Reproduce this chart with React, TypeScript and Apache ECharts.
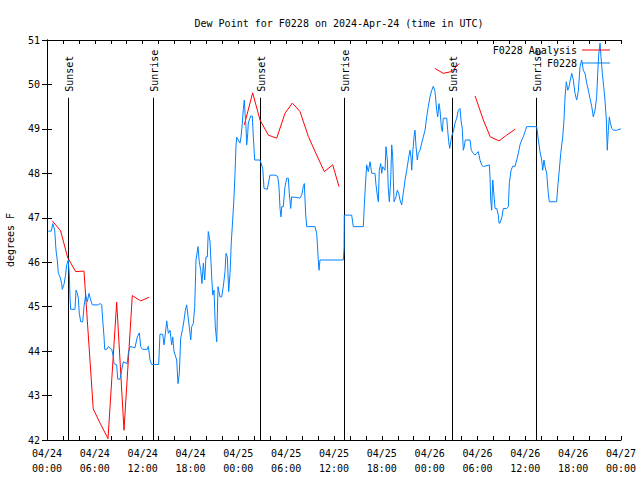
import React, { useEffect, useRef } from "react";
import * as echarts from "echarts";

// hours since 2024-04-24 00:00 UTC
const blueHours = [0.16,0.54,0.72,0.97,1.13,1.29,1.42,1.63,1.84,1.92,2.13,2.32,2.47,2.67,2.8,2.89,2.97,3.51,3.64,3.8,3.93,4.05,4.23,4.48,4.64,4.85,5.06,5.27,5.48,5.68,6.44,6.65,6.86,6.99,7.15,7.24,7.49,7.69,8.12,8.32,8.4,8.74,8.87,9.16,9.37,9.57,10.07,10.2,10.41,11.04,11.33,11.58,11.75,12.0,12.58,12.71,12.92,13.13,14.01,14.17,14.51,14.68,15.02,15.22,15.43,15.64,15.77,15.93,16.27,16.43,16.6,16.77,17.02,17.19,17.35,17.52,17.72,17.94,18.03,18.15,18.35,18.53,18.69,18.94,19.1,19.28,19.44,19.61,19.78,19.94,20.11,20.23,20.45,20.66,20.79,20.95,21.11,21.29,21.45,21.7,21.91,22.12,22.33,22.45,22.62,22.79,22.96,23.12,23.29,23.46,23.58,23.71,23.8,24.0,24.21,24.34,24.5,24.62,24.75,24.84,24.96,25.05,25.18,25.25,25.55,25.75,25.88,26.05,26.72,27.06,27.22,27.63,27.97,28.6,28.94,29.1,29.23,29.35,29.44,29.64,29.85,30.07,30.27,30.39,30.57,30.69,31.52,31.73,31.95,32.15,32.28,32.45,32.58,32.99,33.62,33.83,34.03,34.12,34.24,37.17,37.26,37.29,38.22,38.42,39.68,39.8,39.98,40.1,40.3,40.52,40.73,40.86,41.14,41.27,41.43,41.56,41.68,41.86,41.98,42.11,42.4,42.52,42.69,42.81,42.94,43.11,43.24,43.36,43.53,43.78,43.94,44.12,44.28,44.49,44.69,44.91,45.12,45.32,45.53,45.66,45.75,45.87,46.04,46.16,46.29,46.45,46.57,46.79,47.0,47.2,47.42,47.63,47.83,48.04,48.26,48.46,48.67,48.88,49.01,49.17,49.3,49.46,49.59,49.71,50.14,50.26,50.39,50.51,50.68,50.8,50.97,51.18,51.39,51.59,51.81,51.93,52.09,52.22,52.34,52.47,53.06,53.22,53.47,53.68,53.9,54.1,54.31,54.53,54.73,55.48,55.57,55.66,55.78,55.91,55.98,56.2,56.41,56.61,56.7,56.82,57.04,57.24,57.67,57.87,57.99,58.21,58.42,58.71,58.92,59.12,59.33,59.55,59.75,59.96,60.17,61.43,61.63,61.84,62.05,62.18,62.34,62.47,62.68,62.88,63.01,63.93,64.1,64.26,64.44,64.69,64.85,64.98,65.14,65.32,65.48,65.64,65.82,66.02,66.23,66.44,66.64,66.86,67.07,67.27,67.49,67.7,67.9,68.11,68.33,68.53,68.74,68.95,69.08,69.2,69.37,69.49,69.66,69.83,69.99,70.16,70.28,70.41,70.54,70.66,70.84,71.04,71.46,71.75,72.0];
const blueDew = [46.7,46.7,46.87,46.72,46.27,46.05,45.75,45.67,45.52,45.39,45.5,45.7,45.94,46.05,45.71,45.19,44.94,44.94,45.37,45.3,45.19,44.85,44.66,44.66,45.0,45.26,45.11,45.3,45.15,45.04,45.04,45.07,45.04,44.7,44.32,44.04,44.04,44.1,44.04,43.87,43.72,43.69,43.37,43.37,43.57,43.76,43.72,43.95,44.1,44.08,44.32,44.41,44.1,44.04,44.04,44.11,43.8,43.7,43.7,44.38,44.38,44.14,44.68,44.4,44.47,44.14,44.32,43.99,43.8,43.27,43.5,44.29,44.51,44.7,44.92,45.04,44.74,44.4,44.25,44.55,44.62,45.0,46.05,46.35,46.01,45.82,45.52,45.98,45.6,46.12,46.12,46.69,46.46,45.67,45.26,45.37,44.55,44.21,45.45,45.22,45.22,45.46,45.79,46.2,46.12,45.34,45.75,46.46,46.95,47.47,48.0,48.64,48.81,48.75,48.68,48.82,49.13,49.44,49.65,49.35,49.05,48.64,48.9,49.13,49.29,49.29,48.82,48.3,48.3,48.11,47.66,47.64,47.96,47.96,47.93,47.7,47.21,47.02,47.25,47.25,47.7,47.89,47.89,47.55,47.21,47.47,47.45,47.44,47.51,47.7,47.77,47.06,46.8,46.8,46.8,46.65,46.05,45.82,46.05,46.05,46.31,47.06,47.06,46.8,46.8,47.29,47.85,48.19,48.04,48.26,48.0,48.0,48.0,47.74,47.51,47.36,48.07,48.22,48.0,48.15,48.07,48.6,48.3,47.66,47.36,47.85,48.64,48.37,47.36,47.47,47.62,47.55,47.4,47.29,47.55,47.85,48.07,48.3,48.52,48.37,48.07,48.45,48.82,48.97,48.6,48.3,48.45,48.52,48.68,48.82,48.97,49.27,49.5,49.72,49.87,49.96,49.84,49.42,49.27,49.57,49.42,49.05,48.94,49.24,49.24,48.97,48.71,48.56,48.75,48.86,48.94,49.13,49.24,49.42,49.46,49.2,49.01,48.52,48.6,48.75,48.75,48.52,48.45,48.41,48.45,48.49,48.3,48.19,48.15,48.19,47.92,47.4,47.17,47.85,47.85,47.21,47.21,47.06,46.88,46.88,47.0,47.21,47.21,47.25,47.77,48.07,48.16,48.16,48.3,48.45,48.64,48.75,48.82,48.94,49.05,49.05,48.75,48.49,48.3,48.07,48.3,48.15,48.0,47.55,47.36,47.36,47.77,48.07,48.45,48.82,49.2,49.72,50.06,49.87,49.95,50.1,50.25,50.1,49.8,49.65,49.84,50.4,50.55,50.32,50.25,50.03,49.87,49.69,49.5,49.27,49.42,49.72,50.25,50.66,50.93,50.62,50.25,49.95,49.65,49.2,48.52,48.97,49.27,49.13,49.01,48.97,48.97,48.99,49.0];

// analysis series, null = gap
const redHours = [0.66,1.7,2.6,3.6,4.64,5.8,6.6,7.65,8.74,9.66,10.7,11.75,12.8,18,24.75,25.8,26.72,27.76,28.81,29.85,30.77,31.74,32.78,33.83,34.79,35.84,36.63,42,48.67,49.7,50.76,51.7,52.5,53.7,54.73,55.6,56.7,57.66,58.7];
const redDew = [46.93,46.71,46.1,45.79,45.8,42.7,42.4,42.03,45.1,42.22,45.25,45.13,45.21,null,49.09,49.81,49.2,48.86,48.79,49.35,49.58,49.39,48.83,48.41,48.04,48.19,47.7,null,50.36,50.25,50.29,50.47,null,49.74,49.2,48.82,48.73,48.86,48.99];

const sunHours = [2.68, 13.34, 26.76, 37.3, 50.85, 61.38];
const sunLabels = ["Sunset", "Sunrise", "Sunset", "Sunrise", "Sunset", "Sunrise"];

const yMin = 42;
const yMax = 51;
const sunLineTop = 49.7;
const titleText = "Dew Point for F0228 on 2024-Apr-24 (time in UTC)";
const FONT = "DejaVu Sans Mono";

function fmtX(v: number): string {
  if (Math.round(v) % 6 !== 0) return "";
  const day = 24 + Math.floor(v / 24);
  const hr = Math.round(v) % 24;
  return "04/" + day + "\n" + String(hr).padStart(2, "0") + ":00";
}

export default function App() {
  const ref = useRef<HTMLDivElement>(null);
  useEffect(() => {
    if (!ref.current) return;
    const chart = echarts.init(ref.current, null, { renderer: "svg" });
    const blueData = blueHours.map((h, i) => [h, blueDew[i]]);
    const redData = redHours.map((h, i) => [h, redDew[i] === null ? "-" : redDew[i]]);
    const axisLineStyle = { color: "#000", width: 1 };
    const baseX = {
      type: "value" as const,
      min: 0,
      max: 72,
      interval: 2,
      axisLine: { show: true, lineStyle: axisLineStyle },
      axisTick: { show: true, inside: true, length: 4, lineStyle: axisLineStyle },
      splitLine: { show: false },
    };
    const baseY = {
      type: "value" as const,
      min: yMin,
      max: yMax,
      interval: 1,
      axisLine: { show: true, lineStyle: axisLineStyle },
      axisTick: { show: true, inside: true, length: 5, lineStyle: axisLineStyle },
      splitLine: { show: false },
    };
    chart.setOption({
      animation: false,
      backgroundColor: "#fff",
      textStyle: { fontFamily: FONT },
      title: {
        text: titleText,
        left: 334,
        top: 13,
        textAlign: "center",
        textStyle: { fontSize: 10, fontWeight: "normal", color: "#000", fontFamily: FONT },
      },
      legend: {
        orient: "vertical",
        right: 30,
        top: 44,
        align: "right",
        padding: 0,
        itemGap: 1,
        itemWidth: 28,
        itemHeight: 1,
        icon: "rect",
        textStyle: { fontSize: 10, color: "#000", fontFamily: FONT, lineHeight: 12 },
        data: ["F0228 Analysis", "F0228"],
      },
      grid: { left: 47, right: 19, top: 40, bottom: 40, containLabel: false, outerBoundsMode: "none" },
      xAxis: [
        {
          ...baseX,
          position: "bottom",
          axisLabel: {
            show: true,
            formatter: fmtX,
            color: "#000",
            fontSize: 10,
            fontFamily: FONT,
            lineHeight: 15,
            margin: 6,
            showMinLabel: true,
            showMaxLabel: true,
            hideOverlap: false,
          },
        },
        { ...baseX, position: "top", axisLabel: { show: false } },
      ],
      yAxis: [
        {
          ...baseY,
          position: "left",
          name: "degrees F",
          nameLocation: "middle",
          nameRotate: 90,
          nameGap: 32,
          nameTextStyle: { fontSize: 10, color: "#000", fontFamily: FONT },
          axisLabel: { color: "#000", fontSize: 10, fontFamily: FONT, margin: 7 },
        },
        { ...baseY, position: "right", axisLabel: { show: false } },
      ],
      series: [
        {
          name: "sun",
          type: "custom",
          xAxisIndex: 0,
          yAxisIndex: 0,
          clip: false,
          silent: true,
          data: sunHours.map((h) => [h, yMin]),
          renderItem: (params: any, api: any) => {
            const h = api.value(0);
            const b = api.coord([h, yMin]);
            const t = api.coord([h, sunLineTop]);
            return {
              type: "group",
              children: [
                {
                  type: "line",
                  shape: { x1: Math.round(b[0]) + 0.5, y1: b[1], x2: Math.round(t[0]) + 0.5, y2: t[1] },
                  style: { stroke: "#000", lineWidth: 1 },
                },
                {
                  type: "text",
                  x: Math.round(t[0]) + 1,
                  y: t[1] - 6,
                  rotation: Math.PI / 2,
                  style: {
                    text: sunLabels[params.dataIndex],
                    fill: "#000",
                    font: "10px '" + FONT + "'",
                    align: "left",
                    verticalAlign: "middle",
                    textAlign: "left",
                    textVerticalAlign: "middle",
                  },
                },
              ],
            };
          },
        },
        {
          name: "F0228 Analysis",
          type: "line",
          data: redData,
          symbol: "none",
          showSymbol: false,
          connectNulls: false,
          lineStyle: { color: "#ff0000", width: 1 },
          itemStyle: { color: "#ff0000" },
        },
        {
          name: "F0228",
          type: "line",
          data: blueData,
          symbol: "none",
          showSymbol: false,
          lineStyle: { color: "#0080ff", width: 1 },
          itemStyle: { color: "#0080ff" },
        },
      ],
    });
    return () => chart.dispose();
  }, []);
  return (
    <div
      ref={ref}
      style={{ position: "fixed", left: 0, top: 0, width: 640, height: 480, background: "#fff" }}
    />
  );
}
